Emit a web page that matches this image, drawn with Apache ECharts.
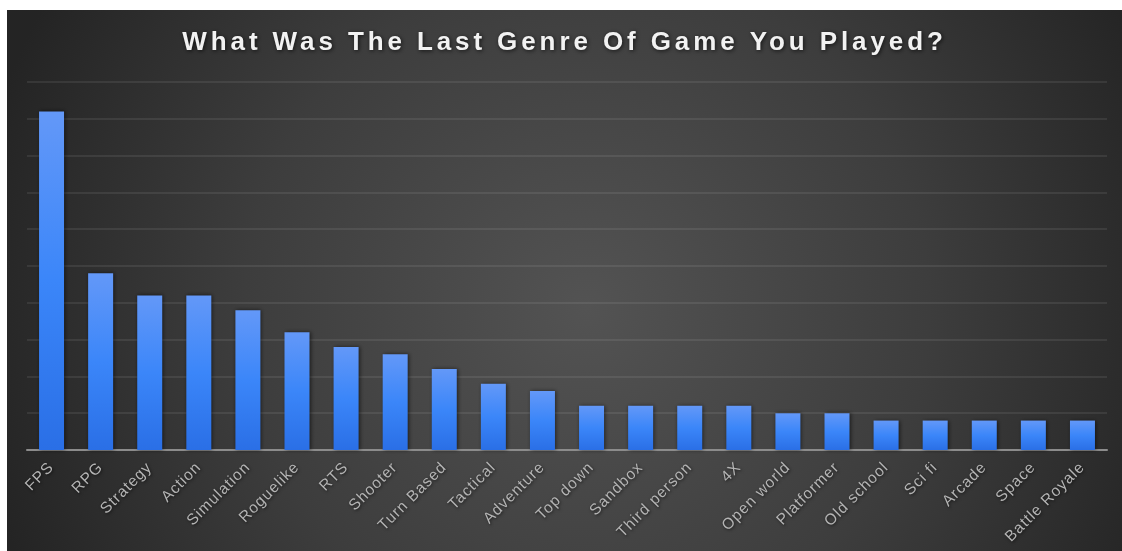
<!DOCTYPE html>
<html>
<head>
<meta charset="utf-8">
<script src="https://cdn.jsdelivr.net/npm/echarts@6/dist/echarts.min.js"></script>
<style>
  html, body { margin: 0; padding: 0; background: #ffffff; width: 1122px; height: 551px; overflow: hidden; }
  #chart { position: absolute; left: 7px; top: 10px; width: 1115px; height: 541px; }
</style>
</head>
<body>
<div id="chart"></div>
<script>
const titleText = 'What Was The Last Genre Of Game You Played?';
const categories = ['FPS', 'RPG', 'Strategy', 'Action', 'Simulation', 'Roguelike', 'RTS', 'Shooter', 'Turn Based', 'Tactical', 'Adventure', 'Top down', 'Sandbox', 'Third person', '4X', 'Open world', 'Platformer', 'Old school', 'Sci fi', 'Arcade', 'Space', 'Battle Royale'];
const values = [46, 24, 21, 21, 19, 16, 14, 13, 11, 9, 8, 6, 6, 6, 6, 5, 5, 4, 4, 4, 4, 4];

// expanded character spacing (as in the original) for title and axis labels
(function () {
  const proto = CanvasRenderingContext2D.prototype;
  if (!('letterSpacing' in proto)) return;
  const origFill = proto.fillText;
  proto.fillText = function (t, x, y, m) {
    let ls = null;
    if (this.font.indexOf('26px') >= 0) ls = '3.9px';
    else if (this.font.indexOf('15.5px') >= 0) ls = '1px';
    if (ls) {
      const prev = this.letterSpacing;
      this.letterSpacing = ls;
      m === undefined ? origFill.call(this, t, x, y) : origFill.call(this, t, x, y, m);
      this.letterSpacing = prev;
    } else {
      m === undefined ? origFill.call(this, t, x, y) : origFill.call(this, t, x, y, m);
    }
  };
})();

const chart = echarts.init(document.getElementById('chart'), null, { renderer: 'canvas' });
chart.setOption({
  animation: false,
  backgroundColor: {
    type: 'radial', x: 0.52, y: 0.55, r: 1.15,
    colorStops: [
      { offset: 0, color: '#535353' },
      { offset: 0.55, color: '#3d3d3d' },
      { offset: 1, color: '#242424' }
    ]
  },
  title: {
    text: titleText,
    left: 'center',
    top: 15,
    textStyle: {
      color: '#f2f2f2',
      fontFamily: 'Liberation Sans, Arial, sans-serif',
      fontWeight: 'bold',
      fontSize: 26,
      textShadowColor: 'rgba(0,0,0,0.7)',
      textShadowBlur: 4,
      textShadowOffsetX: 1,
      textShadowOffsetY: 1
    }
  },
  grid: { left: 20, right: 15, top: 72, bottom: 101, containLabel: false },
  xAxis: {
    type: 'category',
    data: categories,
    axisLine: { show: true, lineStyle: { color: '#8c8c8c', width: 2 } },
    axisTick: { show: false },
    axisLabel: {
      interval: 0,
      rotate: 45,
      margin: 15,
      color: '#b4b4b4',
      fontFamily: 'Liberation Sans, Arial, sans-serif',
      fontSize: 15.5,
      textShadowColor: 'rgba(0,0,0,0.6)',
      textShadowBlur: 3,
      textShadowOffsetX: 1,
      textShadowOffsetY: 1
    }
  },
  yAxis: {
    type: 'value',
    min: 0,
    max: 50,
    interval: 5,
    axisLine: { show: false },
    axisTick: { show: false },
    axisLabel: { show: false },
    splitLine: { show: true, lineStyle: { color: 'rgba(255,255,255,0.08)', width: 2 } }
  },
  series: [{
    type: 'bar',
    data: values,
    barWidth: 25,
    itemStyle: {
      color: {
        type: 'linear', x: 0, y: 0, x2: 0, y2: 1,
        colorStops: [
          { offset: 0, color: '#6398f8' },
          { offset: 0.5, color: '#3b86f9' },
          { offset: 1, color: '#2a6fe6' }
        ]
      },
      shadowColor: 'rgba(0,0,0,0.55)',
      shadowBlur: 4,
      shadowOffsetX: 1,
      shadowOffsetY: 0
    }
  }]
});
</script>
</body>
</html>
